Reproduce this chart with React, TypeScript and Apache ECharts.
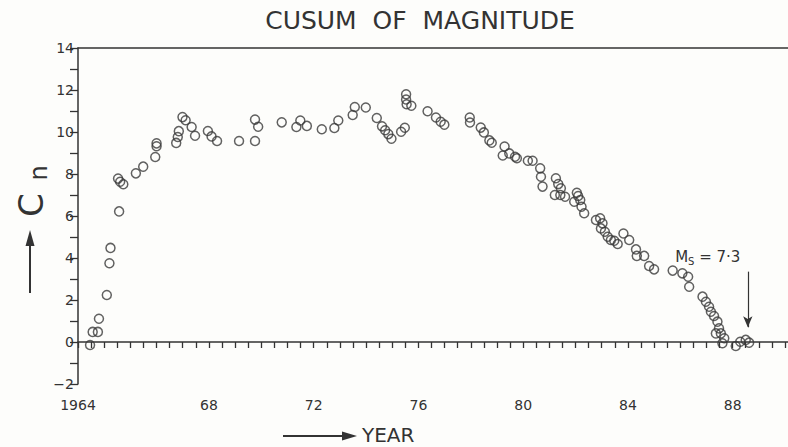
import React, { useEffect, useRef } from "react";
import * as echarts from "echarts";

const titleText = "CUSUM  OF  MAGNITUDE";
const xTickValues = [1963, 1968, 1972, 1976, 1980, 1984, 1988];
const xTickLabels = ["1964", "68", "72", "76", "80", "84", "88"];

const years = [
  1963.46, 1963.56, 1963.76, 1963.8, 1964.1, 1964.2, 1964.24, 1964.57, 1964.53, 1964.61,
  1964.73, 1965.21, 1965.49, 1965.95, 1966.0, 1966.0, 1966.75, 1966.81, 1966.85, 1966.99,
  1967.11, 1967.34, 1967.47, 1967.96, 1968.1, 1968.31, 1969.15, 1969.76, 1969.88, 1969.76,
  1970.78, 1971.34, 1971.49, 1971.74, 1972.31, 1972.79, 1972.94, 1973.49, 1973.57, 1973.99,
  1974.41, 1974.61, 1974.73, 1974.85, 1974.97, 1975.34, 1975.48, 1975.53, 1975.53, 1975.55,
  1975.73, 1976.35, 1976.67, 1976.85, 1976.99, 1977.96, 1977.97, 1978.38, 1978.5, 1978.71,
  1978.8, 1979.29, 1979.22, 1979.47, 1979.69, 1979.76, 1980.18, 1980.36, 1980.65, 1980.68,
  1980.74, 1981.25, 1981.34, 1981.44, 1981.21, 1981.42, 1981.6, 1982.05, 1982.1, 1981.95,
  1982.18, 1982.23, 1982.33, 1982.78, 1982.94, 1983.03, 1982.97, 1983.12, 1983.23, 1983.35,
  1983.48, 1983.61, 1983.83, 1984.05, 1984.31, 1984.34, 1984.62, 1984.81, 1985.0, 1985.71,
  1986.08, 1986.3, 1986.34, 1986.85, 1986.98, 1987.1, 1987.17, 1987.29, 1987.42, 1987.48,
  1987.55, 1987.36, 1987.68, 1987.61, 1988.12, 1988.29, 1988.5, 1988.63,
];

const cusum = [
  -0.14, 0.48, 0.48, 1.11, 2.24, 3.75, 4.48, 6.22, 7.78, 7.63,
  7.51, 8.03, 8.35, 8.81, 9.46, 9.32, 9.48, 9.76, 10.04, 10.71,
  10.56, 10.24, 9.82, 10.05, 9.79, 9.57, 9.57, 10.59, 10.25, 9.57,
  10.46, 10.24, 10.55, 10.29, 10.13, 10.19, 10.55, 10.81, 11.19, 11.17,
  10.67, 10.27, 10.08, 9.9, 9.68, 10.01, 10.2, 11.8, 11.55, 11.32,
  11.25, 10.99, 10.69, 10.49, 10.35, 10.69, 10.45, 10.21, 9.98, 9.6,
  9.49, 9.31, 8.88, 8.98, 8.82, 8.75, 8.63, 8.63, 8.27, 7.87,
  7.4, 7.8, 7.52, 7.32, 7.0, 7.0, 6.92, 7.11, 6.95, 6.68,
  6.76, 6.44, 6.13, 5.81, 5.89, 5.65, 5.41, 5.25, 5.01, 4.86,
  4.82, 4.67, 5.17, 4.86, 4.41, 4.1, 4.1, 3.62, 3.46, 3.4,
  3.27, 3.11, 2.63, 2.16, 1.92, 1.68, 1.44, 1.24, 0.97, 0.65,
  0.41, 0.41, 0.18, -0.06, -0.19, 0.01, 0.1, -0.03,
];

const annotationPos = [1987.05, 4.05];
const arrowFrom = [1988.58, 3.35];
const arrowTo = [1988.58, 0.7];

const INK = "#333333";
const FONT = "DejaVu Sans, sans-serif";

export default function App() {
  const ref = useRef<HTMLDivElement>(null);

  useEffect(() => {
    document.body.style.margin = "0";
    if (!ref.current) return;
    const chart = echarts.init(ref.current, null, { renderer: "svg" });
    const data = years.map((y, i) => [y, cusum[i]]);
    chart.setOption({
      animation: false,
      backgroundColor: "#fdfdfb",
      grid: { left: 78, right: 0, top: 48, bottom: 63 },
      xAxis: [
        {
          type: "value",
          min: 1963,
          max: 1990.1,
          interval: 0.5,
          axisLine: { lineStyle: { color: INK, width: 1.5 } },
          axisTick: { length: 6, lineStyle: { color: INK, width: 1.3 } },
          splitLine: { show: false },
          axisLabel: {
            color: INK,
            fontFamily: FONT,
            fontSize: 14,
            margin: 14,
            showMaxLabel: false,
            formatter: (v: number) => {
              const idx = xTickValues.findIndex((t) => Math.abs(t - v) < 1e-6);
              return idx >= 0 ? xTickLabels[idx] : "";
            },
          },
        },
        {
          type: "value",
          position: "top",
          min: 1963,
          max: 1990.1,
          axisLine: { show: true, lineStyle: { color: INK, width: 1.5 } },
          axisTick: { show: false },
          axisLabel: { show: false },
          splitLine: { show: false },
        },
      ],
      yAxis: {
        type: "value",
        min: -2,
        max: 14,
        interval: 2,
        axisLine: { show: true, lineStyle: { color: INK, width: 1.5 } },
        axisTick: { show: true, length: 8, lineStyle: { color: INK, width: 1.3 } },
        minorTick: { show: true, splitNumber: 2, length: 8, lineStyle: { color: INK, width: 1.3 } },
        splitLine: { show: false },
        axisLabel: {
          color: INK,
          fontFamily: FONT,
          fontSize: 14,
          margin: 4,
          formatter: (v: number) => (v < 0 ? "\u2212" + Math.abs(v) : String(v)),
        },
      },
      series: [
        {
          type: "scatter",
          data,
          symbol: "circle",
          symbolSize: 9,
          itemStyle: { color: "rgba(0,0,0,0)", borderColor: "#3a3a3a", borderWidth: 1.5 },
          markLine: {
            silent: true,
            symbol: ["none", "arrow"],
            symbolSize: [7, 11],
            lineStyle: { color: INK, width: 1.2, type: "solid" },
            label: { show: false },
            data: [[{ coord: arrowFrom }, { coord: arrowTo }]],
          },
          markPoint: {
            silent: true,
            symbol: "circle",
            symbolSize: 0,
            data: [{ coord: annotationPos }],
            label: {
              show: true,
              formatter: "{m|M}{s|S}{m| = 7\u00b73}",
              rich: {
                m: { fontFamily: FONT, fontSize: 15, color: INK },
                s: { fontFamily: FONT, fontSize: 10, color: INK, padding: [10, 0, 0, 0] },
              },
            },
          },
        },
      ],
      graphic: [
        {
          type: "text",
          x: 420,
          y: 20,
          style: { text: titleText, font: `25px ${FONT}`, fill: INK, align: "center", verticalAlign: "middle" },
        },
        { type: "line", shape: { x1: 30, y1: 293, x2: 30, y2: 242 }, style: { stroke: INK, lineWidth: 2 } },
        { type: "polygon", shape: { points: [[25.5, 246], [34.5, 246], [30, 230]] }, style: { fill: INK } },
        {
          type: "group",
          x: 31,
          y: 195,
          rotation: Math.PI / 2,
          children: [
            {
              type: "text",
              x: -10,
              y: 0,
              style: { text: "C", font: `34px ${FONT}`, fill: INK, align: "center", verticalAlign: "middle" },
            },
            {
              type: "text",
              x: 22,
              y: 8,
              style: { text: "n", font: `24px ${FONT}`, fill: INK, align: "center", verticalAlign: "middle" },
            },
          ],
        },
        { type: "line", shape: { x1: 283, y1: 436, x2: 348, y2: 436 }, style: { stroke: INK, lineWidth: 2 } },
        { type: "polygon", shape: { points: [[342, 431.5], [342, 440.5], [357, 436]] }, style: { fill: INK } },
        {
          type: "text",
          x: 362,
          y: 435,
          style: { text: "YEAR", font: `20px ${FONT}`, fill: INK, align: "left", verticalAlign: "middle" },
        },
      ],
    });
    return () => chart.dispose();
  }, []);

  return <div ref={ref} style={{ width: 788, height: 447 }} />;
}
